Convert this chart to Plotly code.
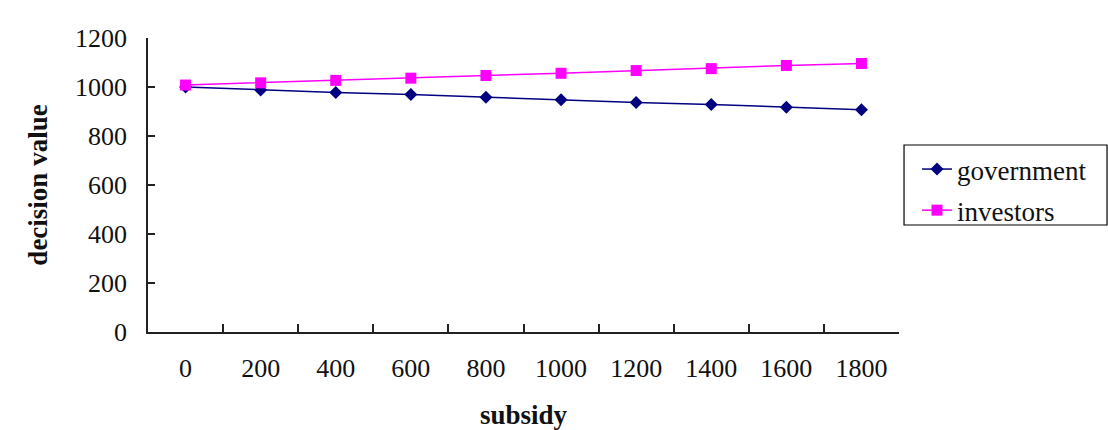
import plotly.graph_objects as go

# Subsidy levels (category axis) and decision values of both parties
subsidy = ["0", "200", "400", "600", "800", "1000", "1200", "1400", "1600", "1800"]
government = [1000, 988, 978, 969, 958, 948, 937, 929, 917, 907]
investors = [1008, 1017, 1027, 1036, 1047, 1056, 1067, 1075, 1088, 1096]
y_ticks = [0, 200, 400, 600, 800, 1000, 1200]

SERIF = "Liberation Serif, Times New Roman, serif"

fig = go.Figure()
fig.add_trace(go.Scatter(
    x=subsidy, y=government, name="government", mode="lines+markers",
    line=dict(color="#000080", width=1.5),
    marker=dict(symbol="diamond", size=10, color="#000080"),
    legendgroup="g",
))
fig.add_trace(go.Scatter(
    x=subsidy, y=investors, name="investors", mode="lines+markers",
    line=dict(color="#FF00FF", width=1.5),
    marker=dict(symbol="square", size=11, color="#FF00FF"),
    legendgroup="i",
))

# legend frame
fig.add_shape(type="rect", xref="paper", yref="paper",
              x0=1.0067, x1=1.277, y0=0.364, y1=0.636,
              line=dict(color="black", width=1.2), fillcolor="white", layer="below")

fig.update_layout(
    width=1108, height=430,
    margin=dict(l=148, r=209, t=38, b=98, autoexpand=False),
    paper_bgcolor="white", plot_bgcolor="white",
    font=dict(family=SERIF, size=26, color="#111111"),
    showlegend=True,
    legend=dict(
        x=917 / 1108, y=1 - 145 / 430, xref="container", yref="container",
        xanchor="left", yanchor="top",
        bgcolor="rgba(0,0,0,0)", borderwidth=0,
        font=dict(family=SERIF, size=27, color="#111111"),
        traceorder="grouped", tracegroupgap=3,
        itemwidth=30,
    ),
    xaxis=dict(
        type="category", tickson="boundaries",
        range=[-0.5, 9.5],
        showline=True, linecolor="#222222", linewidth=1.5,
        ticks="inside", ticklen=8, tickwidth=1.5, tickcolor="#222222",
        showgrid=False, zeroline=False,
        ticklabelstandoff=12,
        title=dict(text="<b>subsidy</b>", font=dict(family=SERIF, size=27), standoff=32),
    ),
    yaxis=dict(
        range=[0, 1200], tickvals=y_ticks,
        showline=True, linecolor="#222222", linewidth=1.5,
        ticks="inside", ticklen=7, tickwidth=1.5, tickcolor="#222222",
        showgrid=False, zeroline=False,
        ticklabelstandoff=14,
        title=dict(text="<b>decision value</b>", font=dict(family=SERIF, size=27), standoff=20),
    ),
)

fig.write_html("out.html")
